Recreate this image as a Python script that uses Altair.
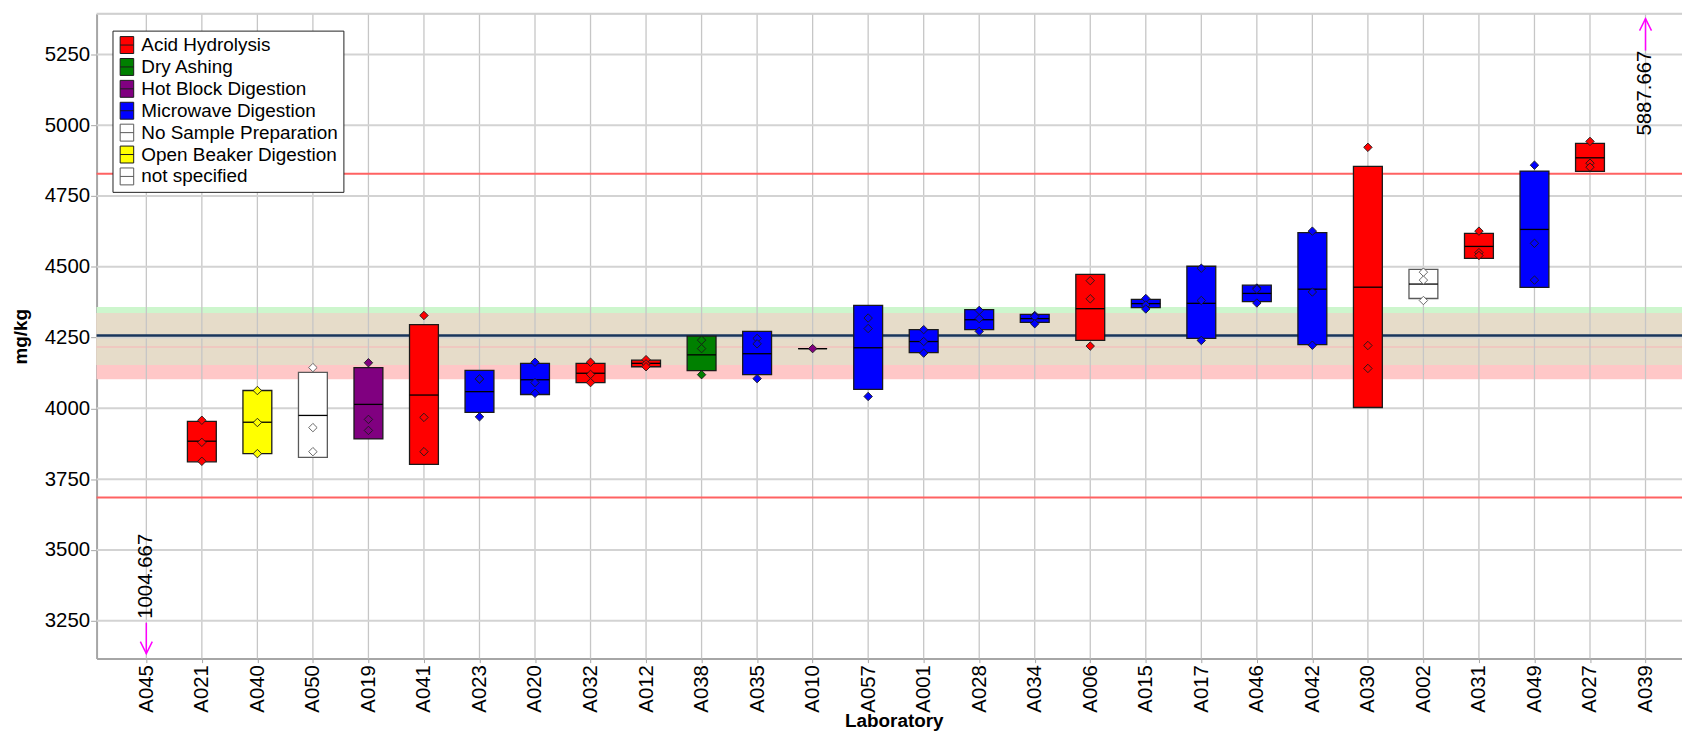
import json
import altair as alt
import pandas as pd

# ---------------- data ----------------
labs = ["A045", "A021", "A040", "A050", "A019", "A041", "A023", "A020", "A032", "A012",
        "A038", "A035", "A010", "A057", "A001", "A028", "A034", "A006", "A015", "A017",
        "A046", "A042", "A030", "A002", "A031", "A049", "A027", "A039"]
methods = [None, "Acid Hydrolysis", "Open Beaker Digestion", "not specified", "Hot Block Digestion",
           "Acid Hydrolysis", "Microwave Digestion", "Microwave Digestion", "Acid Hydrolysis",
           "Acid Hydrolysis", "Dry Ashing", "Microwave Digestion", "Hot Block Digestion",
           "Microwave Digestion", "Microwave Digestion", "Microwave Digestion", "Microwave Digestion",
           "Acid Hydrolysis", "Microwave Digestion", "Microwave Digestion", "Microwave Digestion",
           "Microwave Digestion", "Acid Hydrolysis", "No Sample Preparation", "Acid Hydrolysis",
           "Microwave Digestion", "Acid Hydrolysis", None]
box_low = [None, 3811, 3840, 3827, 3892, 3802, 3986, 4049, 4091, 4147, 4133, 4119, 4211, 4067,
           4197, 4278, 4304, 4240, 4356, 4247, 4377, 4225, 4003, 4388, 4530, 4427, 4837, None]
box_high = [None, 3954, 4063, 4127, 4144, 4296, 4134, 4159, 4159, 4170, 4255, 4272, 4211, 4364,
            4278, 4349, 4332, 4473, 4385, 4502, 4435, 4621, 4855, 4491, 4618, 4838, 4936, None]
lab_mean = [1004.667, 3884, 3951, 3975, 4014, 4047, 4059, 4101, 4124, 4159, 4189, 4193, 4211, 4214,
            4236, 4313, 4317, 4352, 4370, 4371, 4406, 4421, 4428, 4439, 4572, 4632, 4885, 5887.667]
rep_1 = [None, 3958, 4063, 4144, 4161, 4328, 4103, 4163, 4163, 4172, 4241, 4247, 4211, 4319,
         4278, 4346, 4328, 4451, 4388, 4495, 4425, 4626, 4922, 4481, 4626, 4859, 4943, None]
rep_2 = [None, 3880, 3950, 3932, 3961, 3968, 4104, 4091, 4120, 4157, 4211, 4228, None, 4282,
         4236, 4317, 4324, 4387, 4365, 4381, 4421, 4411, 4222, 4453, 4550, 4583, 4866, None]
rep_3 = [None, 3813, 3840, 3847, 3922, 3847, 3970, 4053, 4091, 4147, 4119, 4105, None, 4042,
         4195, 4272, 4299, 4220, 4351, 4240, 4372, 4223, 4141, 4381, 4540, 4453, 4852, None]

method_names = ["Acid Hydrolysis", "Dry Ashing", "Hot Block Digestion", "Microwave Digestion",
                "No Sample Preparation", "Open Beaker Digestion", "not specified"]
method_fill = ["#ff0000", "#008000", "#800080", "#0000ff", "#ffffff", "#ffff00", "#ffffff"]
method_stroke = ["#1a1a1a", "#1a1a1a", "#1a1a1a", "#1a1a1a", "#5a5a5a", "#1a1a1a", "#5a5a5a"]

y_ticks = [3250, 3500, 3750, 4000, 4250, 4500, 4750, 5000, 5250]
assigned_value = 4257
robust_line = 4217
lower_limit = 3685
upper_limit = 4829
green_band = (4153, 4358)
pink_band = (4103, 4337)

# ---------------- layout / style constants ----------------
W, H = 1593, 648
Y_MIN, Y_MAX = 3116, 5394
X_MIN, X_MAX = -0.896, 27.657
BOX_HALF = 0.26
FONT = "Liberation Sans"
TICK_FS = 20.5

XS = alt.Scale(domain=[X_MIN, X_MAX], nice=False, zero=False)
YS = alt.Scale(domain=[Y_MIN, Y_MAX], nice=False, zero=False)
XA = alt.Axis(values=list(range(len(labs))), labelExpr=json.dumps(labs) + "[datum.value]",
              labelAngle=270, labelAlign="right", labelBaseline="middle", labelFontSize=TICK_FS,
              labelColor="#000", labelOverlap=False, labelFlush=False, labelBound=False,
              tickSize=4, tickColor="#a6a6a6", labelPadding=2, grid=False,
              domainColor="#a6a6a6", domainWidth=2, title="Laboratory", titleFontSize=19,
              titleFontWeight="bold", titleColor="#000", titleX=801, titleY=68,
              titleBaseline="alphabetic")
YA = alt.Axis(values=y_ticks, format="d", labelFontSize=TICK_FS, labelColor="#000",
              labelOverlap=False, tickSize=6, tickColor="#a6a6a6", labelPadding=1, grid=False,
              domainColor="#a6a6a6", domainWidth=2, title="mg/kg", titleFontSize=19,
              titleFontWeight="bold", titleColor="#000", titleX=-70, titleY=H / 2,
              titleBaseline="alphabetic", titleAngle=270)


def X(f):
    return alt.X(f, type="quantitative", scale=XS, axis=XA)


def Y(f):
    return alt.Y(f, type="quantitative", scale=YS, axis=YA)


idx = list(range(len(labs)))
boxes = pd.DataFrame({"i": idx, "lab": labs, "method": methods, "lo": box_low,
                      "hi": box_high, "mean": lab_mean}).dropna(subset=["lo"])
boxes["xl"] = boxes["i"] - BOX_HALF
boxes["xr"] = boxes["i"] + BOX_HALF

pts = []
for rep in (rep_1, rep_2, rep_3):
    for i, (m, v) in enumerate(zip(methods, rep)):
        if v is not None:
            pts.append({"i": i, "lab": labs[i], "method": m, "v": v})
pts = pd.DataFrame(pts)

off = pd.DataFrame({"i": idx, "mean": lab_mean})
off_up = off[off["mean"] > Y_MAX].copy()
off_dn = off[off["mean"] < Y_MIN].copy()
off_up["txt"] = off_up["mean"].map(lambda v: f"{v:.3f}")
off_dn["txt"] = off_dn["mean"].map(lambda v: f"{v:.3f}")

bands = pd.DataFrame({"name": ["green", "pink"], "lo": [green_band[0], pink_band[0]],
                      "hi": [green_band[1], pink_band[1]]})
overlap = pd.DataFrame({"lo": [max(green_band[0], pink_band[0])],
                        "hi": [min(green_band[1], pink_band[1])]})

fill_scale = alt.Scale(domain=method_names, range=method_fill)
stroke_scale = alt.Scale(domain=method_names, range=method_stroke)
LEG = alt.Legend(title=None, orient="none", legendX=16, legendY=17,
                 symbolType="M-0.8,-1H0.8V1H-0.8Z M-0.8,0H0.8", symbolSize=289,
                 symbolStrokeColor="#333", symbolStrokeWidth=1, labelFont=FONT,
                 labelFontSize=19, labelColor="#000", labelOffset=5, rowPadding=1,
                 padding=5, strokeColor="#222", fillColor="#ffffff", cornerRadius=0,
                 labelLimit=400)

green = alt.Chart(bands[bands.name == "green"]).mark_rect(color="#cdf6cd").encode(
    y=Y("lo"), y2="hi")
pink = alt.Chart(bands[bands.name == "pink"]).mark_rect(color="#ffc7c7").encode(
    y=Y("lo"), y2="hi")
tan = alt.Chart(overlap).mark_rect(color="#e6dcc9").encode(y=Y("lo"), y2="hi")
robust = alt.Chart(pd.DataFrame({"v": [robust_line]})).mark_rule(
    color="#f2c2bd", strokeWidth=1.5).encode(y=Y("v"))

vgrid = alt.Chart(pd.DataFrame({"i": idx})).mark_rule(
    color="#c6c6c6", strokeWidth=1.3).encode(x=X("i"))
hgrid = alt.Chart(pd.DataFrame({"v": y_ticks})).mark_rule(
    color="#d3d3d3", strokeWidth=2).encode(y=Y("v"))
top_border = alt.Chart(pd.DataFrame({"v": [Y_MAX]})).mark_rule(
    color="#d0d0d0", strokeWidth=2).encode(y=Y("v"))

limits = alt.Chart(pd.DataFrame({"v": [lower_limit, upper_limit]})).mark_rule(
    color="#ff6262", strokeWidth=2).encode(y=Y("v"))
assigned = alt.Chart(pd.DataFrame({"v": [assigned_value]})).mark_rule(
    color="#18365c", strokeWidth=2.5).encode(y=Y("v"))

box = alt.Chart(boxes).mark_rect(strokeWidth=1.3, opacity=1).encode(
    x=X("xl"), x2="xr", y=Y("lo"), y2="hi",
    fill=alt.Fill("method:N", scale=fill_scale, legend=LEG),
    stroke=alt.Stroke("method:N", scale=stroke_scale, legend=None))
mean_line = alt.Chart(boxes).mark_rule(color="#000", strokeWidth=1.3).encode(
    x=X("xl"), x2="xr", y=Y("mean"))
points = alt.Chart(pts).mark_point(shape="diamond", filled=True, size=72, strokeWidth=0.9,
                                   opacity=1).encode(
    x=X("i"), y=Y("v"),
    fill=alt.Fill("method:N", scale=fill_scale, legend=LEG),
    stroke=alt.Stroke("method:N", scale=stroke_scale, legend=None))

MAG = "#ff00ff"
up_shaft = alt.Chart(off_up).mark_rule(color=MAG, strokeWidth=1.5).encode(
    x=X("i"), y=alt.value(5), y2=alt.value(37))
up_head = alt.Chart(off_up).mark_point(shape="M-1,1L0,-1L1,1", filled=False, size=144,
                                       color=MAG, strokeWidth=1.5, opacity=1).encode(
    x=X("i"), y=alt.value(11))
up_text = alt.Chart(off_up).mark_text(angle=270, align="right", baseline="middle",
                                      font=FONT, fontSize=TICK_FS, color="#000").encode(
    x=X("i"), y=alt.value(37), text="txt:N")
dn_shaft = alt.Chart(off_dn).mark_rule(color=MAG, strokeWidth=1.5).encode(
    x=X("i"), y=alt.value(612), y2=alt.value(643))
dn_head = alt.Chart(off_dn).mark_point(shape="M-1,-1L0,1L1,-1", filled=False, size=144,
                                       color=MAG, strokeWidth=1.5, opacity=1).encode(
    x=X("i"), y=alt.value(637))
dn_text = alt.Chart(off_dn).mark_text(angle=270, align="left", baseline="middle",
                                      font=FONT, fontSize=TICK_FS, color="#000").encode(
    x=X("i"), y=alt.value(608), text="txt:N")

chart = alt.layer(
    green, pink, tan, robust, vgrid, hgrid, top_border, limits, assigned,
    box, mean_line, points, up_shaft, up_head, up_text, dn_shaft, dn_head, dn_text
).properties(
    width=W, height=H,
    autosize=alt.AutoSizeParams(type="none"),
    padding={"left": 89, "top": 4, "right": 0, "bottom": 72},
).configure_view(stroke=None).configure(font=FONT)

chart.save("out.html", embed_options={"renderer": "svg", "actions": False})
